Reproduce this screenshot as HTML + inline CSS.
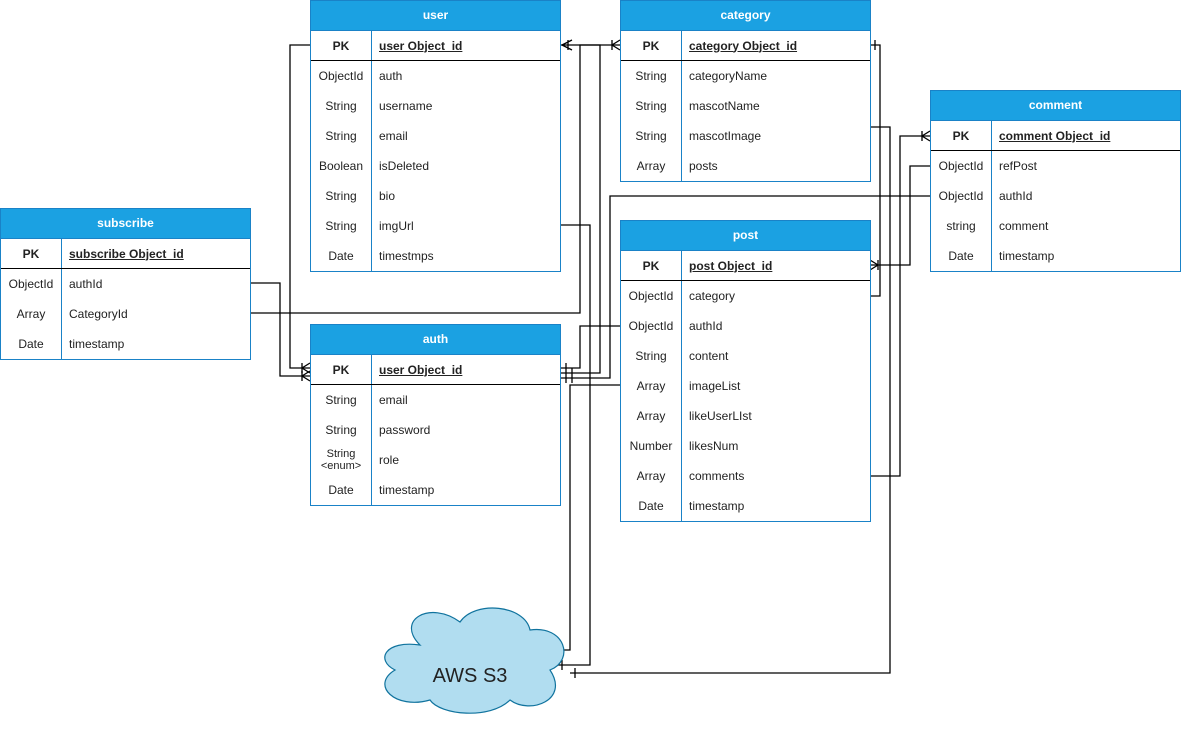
<!DOCTYPE html>
<html><head><meta charset="utf-8"><style>
body{margin:0;width:1181px;height:735px;background:#fff;position:relative;font-family:"Liberation Sans",sans-serif;overflow:hidden}
.t{position:absolute;width:251px;border:1px solid #1a82c7;box-sizing:border-box;background:#fff;font-size:12px;color:#222}
.h{height:29px;background:#1ba1e2;color:#fff;font-weight:bold;text-align:center;line-height:29px;border-bottom:1px solid #1a82c7}
.r{height:30px;display:flex;align-items:center;box-sizing:border-box}
.r .k{width:60px;text-align:center;border-right:1px solid #1a82c7;height:100%;display:flex;align-items:center;justify-content:center;line-height:12px}
.r .v{padding-left:7px}
.pk{border-bottom:1px solid #000;font-weight:bold}
.pk .v{text-decoration:underline}
svg{position:absolute;left:0;top:0}
</style></head><body>
<svg width="1181" height="735">
<g fill="none" stroke="#000" stroke-width="1.3">
<path d="M560,45 H600 V373 H560"/>
<path d="M620,45 H580 V313 H250"/>
<path d="M310,45 H290 V368 H310"/>
<path d="M250,283 H280 V376 H310"/>
<path d="M560,225 H590 V665 H555"/>
<path d="M620,385 H570 V650 H555"/>
<path d="M620,326 H580 V368 H560"/>
<path d="M870,45 H880 V296 H870"/>
<path d="M870,476 H900 V136 H930"/>
<path d="M870,127 H890 V673 H570"/>
<path d="M930,166 H910 V265 H870"/>
<path d="M930,196 H610 V378 H560"/>
<path d="M568,40 V50 M562,45 L572,40 M562,45 L572,50"/>
<path d="M612,40 V50 M620,40 L612,45 L620,50"/>
<path d="M922,131 V141 M930,131 L922,136 L930,141"/>
<path d="M878,260 V270 M870,260 L878,265 L870,270"/>
<path d="M302,363 V373 M310,363 L302,368 L310,373"/>
<path d="M302,371 V381 M310,371 L302,376 L310,381"/>
<path d="M566,363 V383 M572,368 V383 M875,40 V50 M562,645 V655 M562,660 V670 M575,668 V678"/>
</g>
<path d="M420,645 C395,620 430,600 460,622 C475,600 525,605 530,630 C565,625 575,660 550,670 C570,700 530,715 510,700 C490,720 440,715 430,700 C395,710 370,685 395,670 C375,660 385,640 420,645 Z" fill="#b1ddf0" stroke="#10739e" stroke-width="1.2"/>
<text x="470" y="682" text-anchor="middle" font-size="20" font-family="Liberation Sans" fill="#222">AWS S3</text>
</svg>

<div class="t" style="left:310px;top:0px"><div class="h">user</div>
<div class="r pk"><div class="k">PK</div><div class="v">user Object_id</div></div>
<div class="r"><div class="k">ObjectId</div><div class="v">auth</div></div>
<div class="r"><div class="k">String</div><div class="v">username</div></div>
<div class="r"><div class="k">String</div><div class="v">email</div></div>
<div class="r"><div class="k">Boolean</div><div class="v">isDeleted</div></div>
<div class="r"><div class="k">String</div><div class="v">bio</div></div>
<div class="r"><div class="k">String</div><div class="v">imgUrl</div></div>
<div class="r"><div class="k">Date</div><div class="v">timestmps</div></div></div>

<div class="t" style="left:620px;top:0px"><div class="h">category</div>
<div class="r pk"><div class="k">PK</div><div class="v">category Object_id</div></div>
<div class="r"><div class="k">String</div><div class="v">categoryName</div></div>
<div class="r"><div class="k">String</div><div class="v">mascotName</div></div>
<div class="r"><div class="k">String</div><div class="v">mascotImage</div></div>
<div class="r"><div class="k">Array</div><div class="v">posts</div></div></div>

<div class="t" style="left:930px;top:90px"><div class="h">comment</div>
<div class="r pk"><div class="k">PK</div><div class="v">comment Object_id</div></div>
<div class="r"><div class="k">ObjectId</div><div class="v">refPost</div></div>
<div class="r"><div class="k">ObjectId</div><div class="v">authId</div></div>
<div class="r"><div class="k">string</div><div class="v">comment</div></div>
<div class="r"><div class="k">Date</div><div class="v">timestamp</div></div></div>

<div class="t" style="left:620px;top:220px"><div class="h">post</div>
<div class="r pk"><div class="k">PK</div><div class="v">post Object_id</div></div>
<div class="r"><div class="k">ObjectId</div><div class="v">category</div></div>
<div class="r"><div class="k">ObjectId</div><div class="v">authId</div></div>
<div class="r"><div class="k">String</div><div class="v">content</div></div>
<div class="r"><div class="k">Array</div><div class="v">imageList</div></div>
<div class="r"><div class="k">Array</div><div class="v">likeUserLIst</div></div>
<div class="r"><div class="k">Number</div><div class="v">likesNum</div></div>
<div class="r"><div class="k">Array</div><div class="v">comments</div></div>
<div class="r"><div class="k">Date</div><div class="v">timestamp</div></div></div>

<div class="t" style="left:0px;top:208px"><div class="h">subscribe</div>
<div class="r pk"><div class="k">PK</div><div class="v">subscribe Object_id</div></div>
<div class="r"><div class="k">ObjectId</div><div class="v">authId</div></div>
<div class="r"><div class="k">Array</div><div class="v">CategoryId</div></div>
<div class="r"><div class="k">Date</div><div class="v">timestamp</div></div></div>

<div class="t" style="left:310px;top:324px"><div class="h">auth</div>
<div class="r pk"><div class="k">PK</div><div class="v">user Object_id</div></div>
<div class="r"><div class="k">String</div><div class="v">email</div></div>
<div class="r"><div class="k">String</div><div class="v">password</div></div>
<div class="r"><div class="k" style="font-size:11px">String<br>&lt;enum&gt;</div><div class="v">role</div></div>
<div class="r"><div class="k">Date</div><div class="v">timestamp</div></div></div>
</body></html>
